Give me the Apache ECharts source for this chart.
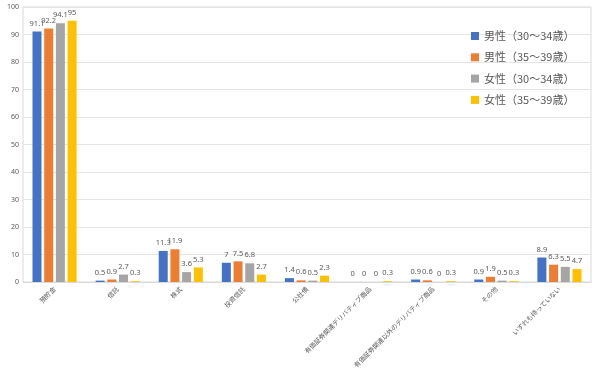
<!DOCTYPE html>
<html>
<head>
<meta charset="utf-8">
<script src="https://cdn.jsdelivr.net/npm/echarts@6/dist/echarts.min.js"></script>
<style>html,body{margin:0;padding:0;background:#fff;}#c{width:600px;height:378px;}</style>
</head>
<body>
<div id="c"></div>
<script>
const categories = ['預貯金','信託','株式','投資信託','公社債','有価証券関連デリバティブ商品','有価証券関連以外のデリバティブ商品','その他','いずれも持っていない'];
const seriesNames = ['男性（30～34歳）','男性（35～39歳）','女性（30～34歳）','女性（35～39歳）'];
const male3034 = [91.1, 0.5, 11.3, 7, 1.4, 0, 0.9, 0.9, 8.9];
const male3539 = [92.2, 0.9, 11.9, 7.5, 0.6, 0, 0.6, 1.9, 6.3];
const female3034 = [94.1, 2.7, 3.6, 6.8, 0.5, 0, 0, 0.5, 5.5];
const female3539 = [95, 0.3, 5.3, 2.7, 2.3, 0.3, 0.3, 0.3, 4.7];
const yTicks = [0,10,20,30,40,50,60,70,80,90,100];

const colors = ['#4472C4','#ED7D31','#A5A5A5','#FFC000'];
const dataSets = [male3034, male3539, female3034, female3539];
const font = '"Noto Sans CJK JP", "Noto Sans", sans-serif';

const chart = echarts.init(document.getElementById('c'), null, {renderer:'canvas'});
chart.setOption({
  animation: false,
  textStyle: {fontFamily: font},
  grid: {left: 23, right: 9, top: 7, bottom: 96, show: true, borderColor: '#d9d9d9', borderWidth: 1},
  legend: {
    orient: 'vertical', left: 466, top: 25,
    itemWidth: 8, itemHeight: 8, itemGap: 9.3,
    icon: 'rect',
    textStyle: {fontSize: 11, color: '#595959', lineHeight: 12, fontFamily: font},
    data: seriesNames
  },
  xAxis: {
    type: 'category', data: categories,
    axisLine: {lineStyle: {color: '#d9d9d9'}},
    axisTick: {show: false},
    axisLabel: {rotate: 45, fontSize: 6.5, color: '#595959', margin: 6, interval: 0, fontFamily: font}
  },
  yAxis: {
    type: 'value', min: yTicks[0], max: yTicks[yTicks.length-1], interval: 10,
    axisLine: {show: false}, axisTick: {show: false},
    splitLine: {lineStyle: {color: '#e5e5e5'}},
    axisLabel: {fontSize: 7, color: '#595959', margin: 4, fontFamily: 'Noto Sans, sans-serif'}
  },
  series: dataSets.map((d, i) => ({
    name: seriesNames[i], type: 'bar', data: d,
    barWidth: 9, barGap: '30%',
    itemStyle: {color: colors[i]},
    label: {show: true, position: 'top', distance: 4, fontSize: 7.5, color: '#595959', fontFamily: 'Noto Sans, sans-serif'}
  }))
});
</script>
</body>
</html>
